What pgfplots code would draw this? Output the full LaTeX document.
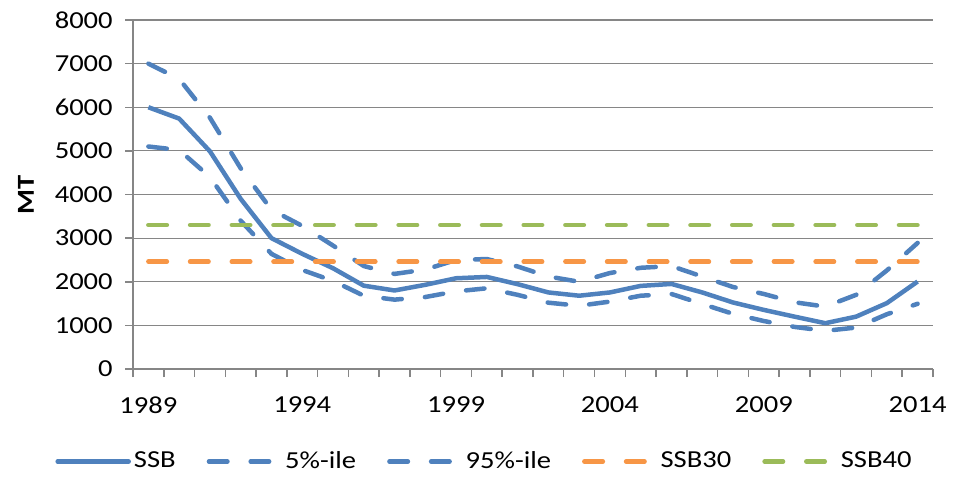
\documentclass[border=0pt]{standalone}
\usepackage{fontspec}
\setmainfont{Carlito}[FakeStretch=1.17]
\usepackage{pgfplots}
\usepackage{pgfplotstable}
\pgfplotsset{compat=1.18}
\definecolor{xlblue}{HTML}{4F81BD}
\definecolor{xlorange}{HTML}{F79646}
\definecolor{xlgreen}{HTML}{9BBB59}
\definecolor{axgray}{HTML}{868686}
\pgfplotstableread{
year ssb low high ssb30 ssb40
1989 6000 5100 7000 2460 3300
1990 5740 5020 6650 2460 3300
1991 4990 4400 5760 2460 3300
1992 3900 3400 4600 2460 3300
1993 3000 2640 3650 2460 3300
1994 2640 2270 3280 2460 3300
1995 2310 2020 2830 2460 3300
1996 1910 1680 2360 2460 3300
1997 1800 1590 2180 2460 3300
1998 1930 1650 2280 2460 3300
1999 2080 1780 2500 2460 3300
2000 2110 1850 2520 2460 3300
2001 1945 1700 2350 2460 3300
2002 1755 1520 2120 2460 3300
2003 1680 1450 2000 2460 3300
2004 1755 1545 2200 2460 3300
2005 1905 1680 2320 2460 3300
2006 1950 1720 2360 2460 3300
2007 1755 1490 2120 2460 3300
2008 1525 1265 1880 2460 3300
2009 1355 1100 1720 2460 3300
2010 1200 965 1530 2460 3300
2011 1050 875 1430 2460 3300
2012 1200 950 1700 2460 3300
2013 1510 1255 2260 2460 3300
2014 2005 1495 2890 2460 3300
}\data
\tikzset{xldash/.style={line width=4.5bp, line cap=round, dash pattern=on 18.5bp off 23.2bp}}
\begin{document}
\fontsize{24.5}{28}\selectfont
\begin{tikzpicture}
\useasboundingbox (0,0) rectangle (971bp,-478bp);
\begin{axis}[
  at={(133bp,-369bp)}, anchor=south west,
  scale only axis, width=800bp, height=349bp,
  xmin=1988.5, xmax=2014.5, ymin=0, ymax=8000,
  axis x line*=bottom, axis y line*=left,
  axis line style={color=axgray, line width=1.5bp, -},
  xtick={1989,1994,...,2014},
  minor xtick={1988.5,1989.5,...,2014.5},
  ytick={0,1000,...,8000},
  tick align=outside,
  major tick length=8bp, minor tick length=8bp,
  tick style={color=axgray, line width=1.5bp},
  major x tick style={draw=none},
  ymajorgrids, grid style={color=axgray, line width=1.2bp},
  /pgf/number format/assume math mode=true,
  /pgf/number format/1000 sep={},
  x tick label style={yshift=-11bp},
  y tick label style={xshift=-4bp},
  every axis y label/.style={at={(rel axis cs:0,0.5)}, xshift=-107bp, rotate=90, anchor=center},
  ylabel={\bfseries MT},
  legend style={at={(0.44,-0.265)}, anchor=center, draw=none, fill=none,
    legend columns=5, /tikz/every even column/.append style={column sep=28bp},
    nodes={inner xsep=3bp}},
  legend image code/.code={\draw[#1] (0bp,0bp) -- (71bp,0bp);},
]
\addplot[xlblue, line width=4.5bp, line join=round, forget plot] table[x=year,y=ssb] {\data};
\addplot[xlblue, xldash, forget plot] table[x=year,y=low] {\data};
\addplot[xlblue, xldash, forget plot] table[x=year,y=high] {\data};
\addplot[xlorange, xldash, forget plot] table[x=year,y=ssb30] {\data};
\addplot[xlgreen, xldash, forget plot] table[x=year,y=ssb40] {\data};
\addlegendimage{xlblue, line width=4.5bp, line cap=round}
\addlegendentry{SSB}
\addlegendimage{xlblue, xldash}
\addlegendentry{5\%-ile}
\addlegendimage{xlblue, xldash}
\addlegendentry{95\%-ile}
\addlegendimage{xlorange, xldash}
\addlegendentry{SSB30}
\addlegendimage{xlgreen, xldash}
\addlegendentry{SSB40}
\end{axis}
\end{tikzpicture}
\end{document}
